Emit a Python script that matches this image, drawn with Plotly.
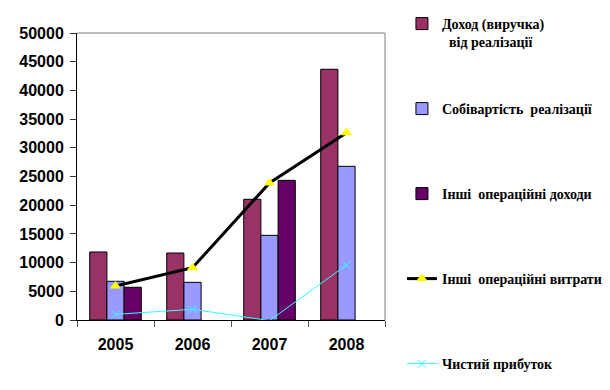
import plotly.graph_objects as go

years = ["2005", "2006", "2007", "2008"]
revenue = [11850, 11670, 21030, 43680]
cost = [6740, 6560, 14750, 26770]
other_income = [5700, None, 24330, None]
other_expenses = [5920, 9110, 23870, 32630]
net_profit = [990, 1860, -100, 9580]

names = ["Доход (виручка)<br>  від реалізації", "Собівартість  реалізації",
         "Інші  операційні доходи", "Інші  операційні витрати", "Чистий прибуток"]

fig = go.Figure()
fig.add_trace(go.Bar(x=years, y=revenue, name=names[0], legend="legend",
                     marker=dict(color="#993366", line=dict(color="black", width=1))))
fig.add_trace(go.Bar(x=years, y=cost, name=names[1], legend="legend2",
                     marker=dict(color="#9999FF", line=dict(color="black", width=1))))
fig.add_trace(go.Bar(x=years, y=other_income, name=names[2], legend="legend3",
                     marker=dict(color="#660066", line=dict(color="black", width=1))))
fig.add_trace(go.Scatter(x=years, y=other_expenses, name=names[3], legend="legend4",
                         mode="lines+markers", cliponaxis=False,
                         line=dict(color="black", width=3),
                         marker=dict(symbol="triangle-up", size=10, color="#FFFF00")))
fig.add_trace(go.Scatter(x=years, y=net_profit, name=names[4], legend="legend5",
                         mode="lines+markers", cliponaxis=False,
                         line=dict(color="#33FFFF", width=1),
                         marker=dict(symbol="x-thin", size=8, color="#33FFFF",
                                     line=dict(color="#33FFFF", width=1))))

# page body has an 8px default margin, so the figure is offset by 8px
W, H = 602, 382
ML, MT, MB = 69, 25, 70
H_PLOT = H - MT - MB
def leg(ypix):
    # ypix: symbol centre in page pixels
    yfig = ypix - 8
    return dict(x=1.055, y=(H - MB - yfig + 14) / H_PLOT, xanchor="left", yanchor="top",
                font=dict(family="Liberation Serif", size=14, color="black", weight="bold"),
                itemwidth=30, bgcolor="rgba(0,0,0,0)", valign="top",
                tracegroupgap=0)

fig.update_layout(
    width=W, height=H,
    margin=dict(l=ML, r=W - ML - 308, t=MT, b=MB, autoexpand=False),
    paper_bgcolor="white", plot_bgcolor="white",
    barmode="group", bargap=0.33, bargroupgap=0,
    showlegend=True,
    legend=leg(22), legend2=leg(107), legend3=leg(192), legend4=leg(277), legend5=leg(362),
    xaxis=dict(type="category", showline=True, linecolor="black", linewidth=1,
               ticks="outside", tickson="boundaries", ticklen=6, tickcolor="#555",
               ticklabelstandoff=10,
               tickfont=dict(family="Arial", size=16, color="black", weight="bold"),
               showgrid=False),
    yaxis=dict(range=[0, 50000], dtick=5000, tickformat="d", showline=True, linecolor="black",
               linewidth=1, ticks="outside", ticklen=6, tickcolor="#333",
               ticklabelstandoff=3,
               tickfont=dict(family="Arial", size=16, color="black", weight="bold"),
               showgrid=False, zeroline=False),
    shapes=[
        dict(type="line", xref="paper", yref="paper", x0=0, x1=1, y0=1, y1=1,
             line=dict(color="#808080", width=1)),
        dict(type="line", xref="paper", yref="paper", x0=1, x1=1, y0=0, y1=1,
             line=dict(color="#808080", width=1)),
    ],
)

fig.write_html("out.html")
